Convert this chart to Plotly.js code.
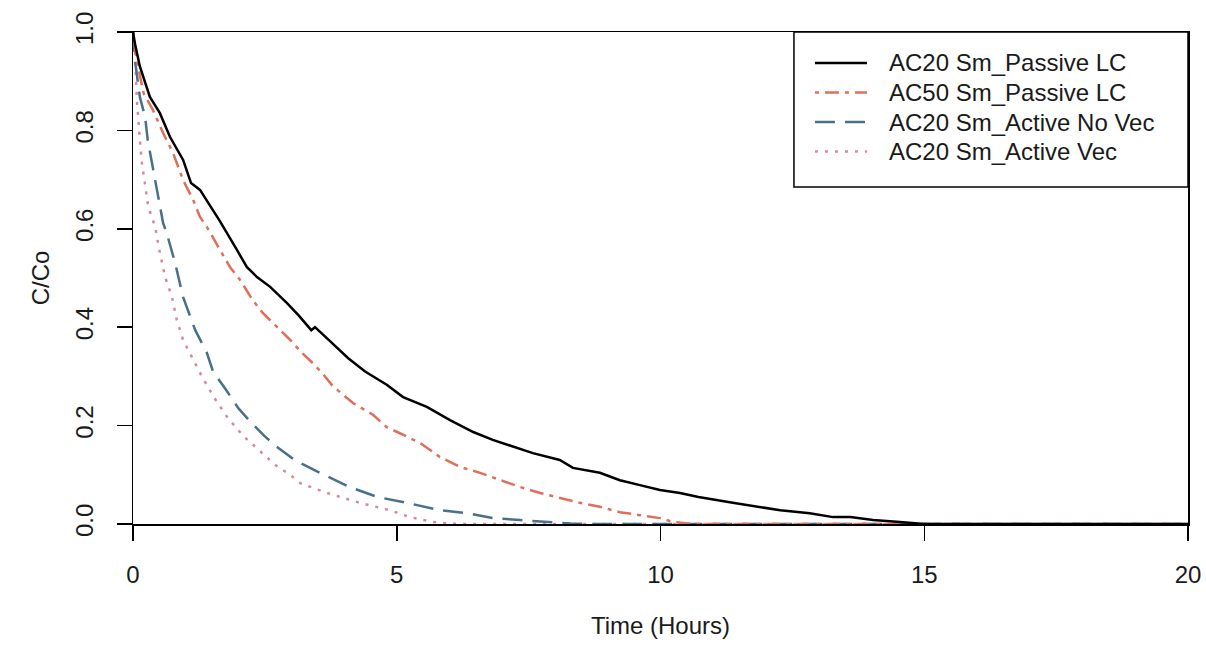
<!DOCTYPE html>
<html>
<head>
<meta charset="utf-8">
<script src="https://cdn.plot.ly/plotly-3.0.1.min.js"></script>
<style>html,body{margin:0;padding:0;background:#fff;}#chart{width:1206px;height:652px;}</style>
</head>
<body>
<div id="chart"></div>
<script>
// ---- data ----
const seriesNames = ["AC20 Sm_Passive LC", "AC50 Sm_Passive LC", "AC20 Sm_Active No Vec", "AC20 Sm_Active Vec"];

const tPassive20 = [0, 0.04, 0.13, 0.32, 0.51, 0.70, 0.95, 1.10, 1.27, 1.46, 1.65, 1.97, 2.16, 2.35, 2.60, 2.92, 3.14, 3.38, 3.45, 3.75, 4.08, 4.40, 4.81, 5.12, 5.57, 6.01, 6.45, 6.82, 7.20, 7.58, 8.09, 8.34, 8.85, 9.23, 9.61, 9.99, 10.37, 10.72, 11.37, 11.83, 12.27, 12.83, 13.27, 13.60, 14.03, 14.54, 14.80, 15.00, 20];
const cPassive20 = [1.0, 0.975, 0.93, 0.868, 0.835, 0.787, 0.74, 0.693, 0.679, 0.648, 0.615, 0.557, 0.522, 0.502, 0.482, 0.449, 0.424, 0.394, 0.40, 0.37, 0.337, 0.31, 0.283, 0.258, 0.238, 0.211, 0.187, 0.171, 0.157, 0.144, 0.13, 0.114, 0.104, 0.089, 0.079, 0.069, 0.063, 0.055, 0.043, 0.035, 0.028, 0.022, 0.014, 0.014, 0.008, 0.004, 0.002, 0, 0];

const tPassive50 = [0, 0.07, 0.20, 0.38, 0.57, 0.76, 0.95, 1.14, 1.27, 1.40, 1.65, 1.84, 2.03, 2.27, 2.46, 2.73, 2.98, 3.20, 3.41, 3.60, 3.79, 4.17, 4.55, 4.81, 5.19, 5.44, 5.82, 6.20, 6.58, 6.96, 7.34, 7.72, 8.09, 8.47, 8.85, 9.23, 9.61, 9.99, 10.24, 10.50, 10.80, 20];
const cPassive50 = [1.0, 0.943, 0.876, 0.841, 0.795, 0.754, 0.699, 0.659, 0.624, 0.604, 0.557, 0.522, 0.496, 0.455, 0.429, 0.40, 0.374, 0.348, 0.327, 0.305, 0.28, 0.246, 0.222, 0.197, 0.177, 0.165, 0.136, 0.116, 0.104, 0.089, 0.075, 0.063, 0.053, 0.043, 0.035, 0.024, 0.018, 0.012, 0.004, 0.001, 0, 0];

const tActiveNoVec = [0, 0.04, 0.13, 0.23, 0.28, 0.38, 0.47, 0.57, 0.64, 0.80, 0.95, 1.18, 1.40, 1.52, 1.75, 2.00, 2.25, 2.50, 2.75, 3.00, 3.17, 3.54, 4.11, 4.63, 5.19, 5.82, 6.33, 6.82, 7.34, 7.85, 8.30, 8.60, 20];
const cActiveNoVec = [1.0, 0.94, 0.868, 0.827, 0.78, 0.72, 0.665, 0.612, 0.591, 0.53, 0.461, 0.394, 0.348, 0.309, 0.275, 0.235, 0.205, 0.178, 0.155, 0.135, 0.124, 0.104, 0.075, 0.055, 0.043, 0.028, 0.022, 0.012, 0.008, 0.004, 0.001, 0, 0];

const tActiveVec = [0, 0.04, 0.07, 0.10, 0.13, 0.17, 0.23, 0.28, 0.34, 0.42, 0.51, 0.61, 0.74, 0.83, 0.95, 1.14, 1.31, 1.55, 1.80, 2.10, 2.40, 2.70, 3.00, 3.17, 3.68, 4.30, 4.87, 5.25, 5.69, 6.00, 6.30, 20];
const cActiveVec = [1.0, 0.963, 0.868, 0.815, 0.78, 0.733, 0.685, 0.652, 0.628, 0.604, 0.551, 0.502, 0.461, 0.415, 0.374, 0.333, 0.299, 0.255, 0.215, 0.178, 0.148, 0.12, 0.098, 0.083, 0.063, 0.043, 0.028, 0.014, 0.004, 0.001, 0, 0];

const xTicks = [0, 5, 10, 15, 20];
const yTicks = [0, 0.2, 0.4, 0.6, 0.8, 1.0];
const yTickText = ["0.0", "0.2", "0.4", "0.6", "0.8", "1.0"];

// ---- styles ----
const FONT = "Arial, 'Liberation Sans', sans-serif";
const colors = ["#000000", "#DF6F5B", "#48708A", "#D58A9A"];
const dashes = ["solid", "4px,6px,14px,6px", "20px,10px", "3px,7px"];
const widths = [2.5, 2.5, 2.5, 2.5];

const xs = [tPassive20, tPassive50, tActiveNoVec, tActiveVec];
const ys = [cPassive20, cPassive50, cActiveNoVec, cActiveVec];

const traces = seriesNames.map((name, i) => ({
  type: "scatter", mode: "lines", name: name,
  x: xs[i], y: ys[i],
  line: {color: colors[i], width: widths[i], dash: dashes[i]},
  showlegend: false
})).reverse();

// ---- custom legend (box, samples, labels) in paper coordinates ----
const legBox = {x0: 0.6265, x1: 1.0, y0: 0.685, y1: 1.0};
const legRowY = [0.937, 0.877, 0.817, 0.757];
const legLineX = [0.6464, 0.6957];
const legTextX = 0.7147;

const shapes = [{
  type: "rect", xref: "paper", yref: "paper",
  x0: legBox.x0, x1: legBox.x1, y0: legBox.y0, y1: legBox.y1,
  line: {color: "#000", width: 1.5}, fillcolor: "#fff", layer: "above"
}];
const annotations = [];
seriesNames.forEach((name, i) => {
  shapes.push({
    type: "line", xref: "paper", yref: "paper",
    x0: legLineX[0], x1: legLineX[1], y0: legRowY[i], y1: legRowY[i],
    line: {color: colors[i], width: widths[i], dash: dashes[i]}, layer: "above"
  });
  annotations.push({
    xref: "paper", yref: "paper", x: legTextX, y: legRowY[i],
    xanchor: "left", yanchor: "middle", showarrow: false,
    text: name, font: {family: FONT, size: 24, color: "#1a1a1a"}
  });
});

const axisCommon = {
  showline: true, linecolor: "#000", linewidth: 1.5, mirror: true,
  ticks: "outside", ticklen: 15, tickwidth: 1.5, tickcolor: "#000",
  showgrid: false, zeroline: false,
  tickfont: {family: FONT, size: 24, color: "#1a1a1a"}
};

const layout = {
  width: 1206, height: 652,
  margin: {l: 133, r: 18, t: 32, b: 128, pad: 0},
  paper_bgcolor: "#fff", plot_bgcolor: "#fff",
  font: {family: FONT, size: 24, color: "#1a1a1a"},
  showlegend: false,
  xaxis: Object.assign({}, axisCommon, {
    range: [0, 20], tickmode: "array", tickvals: xTicks,
    ticktext: xTicks.map(String), ticklabelstandoff: 14,
    title: {text: "Time (Hours)", font: {family: FONT, size: 24, color: "#1a1a1a"}, standoff: 30}
  }),
  yaxis: Object.assign({}, axisCommon, {
    range: [0, 1], tickmode: "array", tickvals: yTicks, ticktext: yTickText,
    tickangle: -90, ticklabelstandoff: 14,
    title: {text: "C/Co", font: {family: FONT, size: 24, color: "#1a1a1a"}, standoff: 14}
  }),
  shapes: shapes,
  annotations: annotations
};

Plotly.newPlot("chart", traces, layout, {staticPlot: true, displayModeBar: false});
</script>
</body>
</html>
